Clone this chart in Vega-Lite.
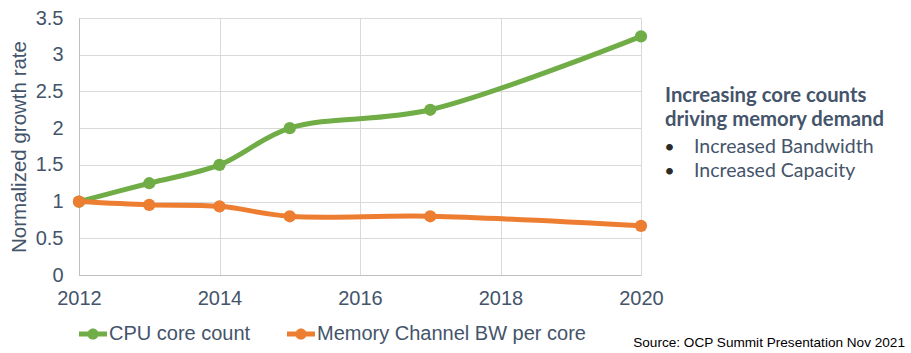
{
  "$schema": "https://vega.github.io/schema/vega-lite/v6.json",
  "width": 562,
  "height": 257,
  "autosize": {"type": "none"},
  "padding": {"left": 79, "top": 18, "right": 270, "bottom": 78},
  "background": "white",
  "config": {
    "view": {"stroke": null},
    "font": "Arial",
    "axis": {
      "grid": true,
      "gridColor": "#d9d9d9",
      "domainColor": "#bfbfbf",
      "ticks": false,
      "labelFont": "Arial",
      "labelFontSize": 20,
      "labelColor": "#44546A",
      "labelFlush": false,
      "labelOverlap": false,
      "titleFont": "Arial",
      "titleFontSize": 20.5,
      "titleFontWeight": "normal",
      "titleColor": "#44546A"
    },
    "axisX": {"labelPadding": 13},
    "axisY": {"labelPadding": 16, "titlePadding": 6},
    "text": {"align": "left", "baseline": "alphabetic", "font": "Lato", "color": "#44546A"}
  },
  "layer": [
    {
      "data": {
        "values": [
          {"year": 2012, "value": 1.0, "series": "CPU core count"},
          {"year": 2013, "value": 1.25, "series": "CPU core count"},
          {"year": 2014, "value": 1.5, "series": "CPU core count"},
          {"year": 2015, "value": 2.0, "series": "CPU core count"},
          {"year": 2017, "value": 2.25, "series": "CPU core count"},
          {"year": 2020, "value": 3.25, "series": "CPU core count"},
          {"year": 2012, "value": 1.0, "series": "Memory Channel BW per core"},
          {"year": 2013, "value": 0.955, "series": "Memory Channel BW per core"},
          {"year": 2014, "value": 0.935, "series": "Memory Channel BW per core"},
          {"year": 2015, "value": 0.8, "series": "Memory Channel BW per core"},
          {"year": 2017, "value": 0.8, "series": "Memory Channel BW per core"},
          {"year": 2020, "value": 0.67, "series": "Memory Channel BW per core"}
        ]
      },
      "mark": {
        "type": "line",
        "interpolate": "catmull-rom",
        "strokeWidth": 5,
        "point": {"filled": true, "size": 150, "opacity": 1}
      },
      "encoding": {
        "x": {
          "field": "year",
          "type": "quantitative",
          "scale": {"domain": [2012, 2020], "nice": false, "zero": false},
          "axis": {"values": [2012, 2014, 2016, 2018, 2020], "format": "d", "title": null}
        },
        "y": {
          "field": "value",
          "type": "quantitative",
          "scale": {"domain": [0, 3.5], "nice": false},
          "axis": {"values": [0, 0.5, 1, 1.5, 2, 2.5, 3, 3.5], "format": "~g", "title": "Normalized growth rate"}
        },
        "color": {
          "field": "series",
          "type": "nominal",
          "scale": {
            "domain": ["CPU core count", "Memory Channel BW per core"],
            "range": ["#70AD47", "#ED7D31"]
          },
          "legend": {
            "orient": "none",
            "legendX": 0,
            "legendY": 302,
            "direction": "horizontal",
            "title": null,
            "labelFont": "Arial",
            "labelFontSize": 20,
            "labelColor": "#44546A",
            "labelLimit": 500,
            "labelOffset": 2,
            "columnPadding": 36,
            "symbolType": "M-1,-0.17 L1,-0.17 L1,0.17 L-1,0.17 Z M0.4,0 A0.4,0.4 0 1,1 -0.4,0 A0.4,0.4 0 1,1 0.4,0 Z",
            "symbolSize": 784,
            "symbolStrokeWidth": 0,
            "symbolOpacity": 1,
            "encode": {
              "symbols": {
                "update": {
                  "fill": {"scale": "color", "field": "value"},
                  "fillOpacity": {"value": 1}
                }
              }
            }
          }
        }
      }
    },
    {
      "data": {"values": [{"note": "heading1"}]},
      "mark": {"type": "text", "text": "Increasing core counts", "fontWeight": "bold", "fontSize": 20.3},
      "encoding": {
        "x": {"datum": 2020.342, "axis": {"values": [2012, 2014, 2016, 2018, 2020], "format": "d", "title": null}},
        "y": {"datum": 2.352, "axis": {"values": [0, 0.5, 1, 1.5, 2, 2.5, 3, 3.5], "format": "~g", "title": "Normalized growth rate"}}
      }
    },
    {
      "data": {"values": [{"note": "heading2"}]},
      "mark": {"type": "text", "text": "driving memory demand", "fontWeight": "bold", "fontSize": 20.3},
      "encoding": {
        "x": {"datum": 2020.342, "axis": {"values": [2012, 2014, 2016, 2018, 2020], "format": "d", "title": null}},
        "y": {"datum": 2.033, "axis": {"values": [0, 0.5, 1, 1.5, 2, 2.5, 3, 3.5], "format": "~g", "title": "Normalized growth rate"}}
      }
    },
    {
      "data": {"values": [{"note": "bullet1"}]},
      "mark": {"type": "text", "text": "•", "fontSize": 18, "color": "#2b2b2b"},
      "encoding": {
        "x": {"datum": 2020.33, "axis": {"values": [2012, 2014, 2016, 2018, 2020], "format": "d", "title": null}},
        "y": {"datum": 1.666, "axis": {"values": [0, 0.5, 1, 1.5, 2, 2.5, 3, 3.5], "format": "~g", "title": "Normalized growth rate"}}
      }
    },
    {
      "data": {"values": [{"note": "bullet2"}]},
      "mark": {"type": "text", "text": "•", "fontSize": 18, "color": "#2b2b2b"},
      "encoding": {
        "x": {"datum": 2020.33, "axis": {"values": [2012, 2014, 2016, 2018, 2020], "format": "d", "title": null}},
        "y": {"datum": 1.339, "axis": {"values": [0, 0.5, 1, 1.5, 2, 2.5, 3, 3.5], "format": "~g", "title": "Normalized growth rate"}}
      }
    },
    {
      "data": {"values": [{"note": "item1"}]},
      "mark": {"type": "text", "text": "Increased Bandwidth", "fontSize": 19.5},
      "encoding": {
        "x": {"datum": 2020.754, "axis": {"values": [2012, 2014, 2016, 2018, 2020], "format": "d", "title": null}},
        "y": {"datum": 1.666, "axis": {"values": [0, 0.5, 1, 1.5, 2, 2.5, 3, 3.5], "format": "~g", "title": "Normalized growth rate"}}
      }
    },
    {
      "data": {"values": [{"note": "item2"}]},
      "mark": {"type": "text", "text": "Increased Capacity", "fontSize": 19.5},
      "encoding": {
        "x": {"datum": 2020.754, "axis": {"values": [2012, 2014, 2016, 2018, 2020], "format": "d", "title": null}},
        "y": {"datum": 1.339, "axis": {"values": [0, 0.5, 1, 1.5, 2, 2.5, 3, 3.5], "format": "~g", "title": "Normalized growth rate"}}
      }
    },
    {
      "data": {"values": [{"note": "source"}]},
      "mark": {
        "type": "text",
        "text": "Source: OCP Summit Presentation Nov 2021",
        "font": "Arial",
        "fontSize": 13.6,
        "align": "right",
        "color": "#000000"
      },
      "encoding": {
        "x": {"datum": 2023.758, "axis": {"values": [2012, 2014, 2016, 2018, 2020], "format": "d", "title": null}},
        "y": {"datum": -0.98, "axis": {"values": [0, 0.5, 1, 1.5, 2, 2.5, 3, 3.5], "format": "~g", "title": "Normalized growth rate"}}
      }
    }
  ]
}
